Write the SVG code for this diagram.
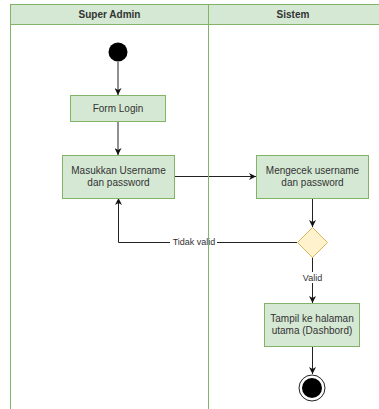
<svg xmlns="http://www.w3.org/2000/svg" width="379" height="409" viewBox="0 0 379 409">
  <style>
    .lane { fill: none; stroke: #82b366; stroke-width: 1; }
    .head { fill: #d5e8d4; stroke: #82b366; stroke-width: 1; }
    .head-text { font-family: "Liberation Sans", Arial, sans-serif; font-size: 10px; font-weight: bold; fill: #333333; text-anchor: middle; }
    .act { fill: #d5e8d4; stroke: #82b366; stroke-width: 1; }
    .act-text { font-family: "Liberation Sans", Arial, sans-serif; font-size: 10px; fill: #333333; text-anchor: middle; }
    .dec { fill: #fff2cc; stroke: #d6b656; stroke-width: 1; }
    .edge { fill: none; stroke: #222222; stroke-width: 1; }
    .lbl { font-family: "Liberation Sans", Arial, sans-serif; font-size: 9px; fill: #333333; text-anchor: middle; }
  </style>
  <defs>
    <marker id="arrow" viewBox="0 0 10 10" refX="10" refY="5" markerWidth="7" markerHeight="7" markerUnits="userSpaceOnUse" orient="auto">
      <path d="M0,0 L10,5 L0,10 L3,5 Z" fill="#111111"/>
    </marker>
  </defs>

  <rect width="379" height="409" fill="#ffffff"/>

  <!-- connectors -->
  <g id="connectors">
    <line class="edge" x1="118" y1="62" x2="118" y2="95" marker-end="url(#arrow)"/>
    <line class="edge" x1="118" y1="121" x2="118" y2="155" marker-end="url(#arrow)"/>
    <line class="edge" x1="174" y1="176.5" x2="256" y2="176.5" marker-end="url(#arrow)"/>
    <line class="edge" x1="312.5" y1="198" x2="312.5" y2="227" marker-end="url(#arrow)"/>
    <polyline class="edge" points="297,242.5 118.5,242.5 118.5,198" marker-end="url(#arrow)"/>
    <rect x="170" y="236" width="47" height="11" fill="#ffffff"/>
    <text class="lbl" x="194" y="245">Tidak valid</text>
    <line class="edge" x1="312.5" y1="257" x2="312.5" y2="303" marker-end="url(#arrow)"/>
    <rect x="299" y="272" width="27" height="11" fill="#ffffff"/>
    <text class="lbl" x="312.5" y="281">Valid</text>
    <line class="edge" x1="312.5" y1="346" x2="312.5" y2="374" marker-end="url(#arrow)"/>
  </g>

  <!-- swimlanes (drawn over the edge labels) -->
  <g id="lanes">
    <rect class="head" x="10.5" y="4.5" width="372" height="20"/>
    <line class="lane" x1="10.5" y1="4.5" x2="10.5" y2="409"/>
    <line class="lane" x1="208.5" y1="4.5" x2="208.5" y2="409"/>
    <text class="head-text" x="109.5" y="18">Super Admin</text>
    <text class="head-text" x="293" y="18">Sistem</text>
  </g>

  <!-- nodes -->
  <g id="start">
    <circle cx="118" cy="52" r="9.5" fill="#000000"/>
  </g>
  <g id="form-login">
    <rect class="act" x="70.5" y="95.5" width="95" height="26"/>
    <text class="act-text" x="118" y="112">Form Login</text>
  </g>
  <g id="masukkan">
    <rect class="act" x="62.5" y="155.5" width="112" height="43"/>
    <text class="act-text" x="118.5" y="174">Masukkan Username</text>
    <text class="act-text" x="118.5" y="186">dan password</text>
  </g>
  <g id="mengecek">
    <rect class="act" x="256.5" y="155.5" width="112" height="43"/>
    <text class="act-text" x="312.5" y="174">Mengecek username</text>
    <text class="act-text" x="312.5" y="186">dan password</text>
  </g>
  <g id="decision">
    <polygon class="dec" points="312.5,227.5 327.5,242.5 312.5,257.5 297.5,242.5"/>
  </g>
  <g id="tampil">
    <rect class="act" x="264.5" y="303.5" width="95" height="43"/>
    <text class="act-text" x="312" y="322">Tampil ke halaman</text>
    <text class="act-text" x="312" y="334">utama (Dashbord)</text>
  </g>
  <g id="end">
    <circle cx="312" cy="388" r="13" fill="#ffffff" stroke="#222222" stroke-width="1"/>
    <circle cx="312" cy="388" r="10" fill="#000000"/>
  </g>
</svg>
